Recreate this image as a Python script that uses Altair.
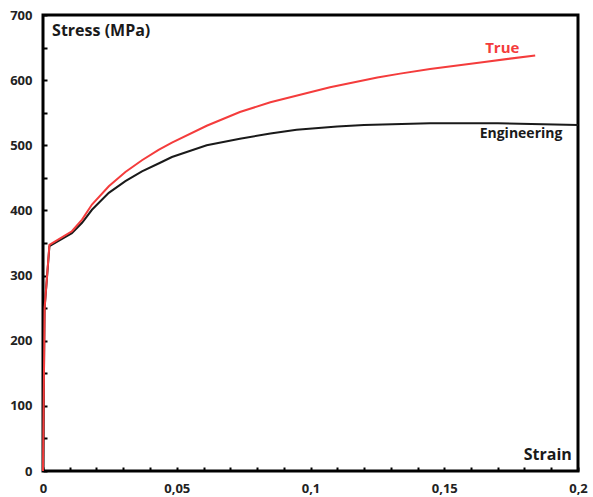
import altair as alt
import pandas as pd

# Engineering stress-strain curve
eng_strain = [0, 0.0006, 0.0024, 0.0108, 0.0146, 0.0183, 0.0246, 0.0308, 0.037, 0.0432, 0.0482,
              0.0612, 0.0736, 0.085, 0.0948, 0.11, 0.12, 0.1447, 0.17, 0.2]
eng_stress = [0, 250, 345, 365, 381, 401, 427, 445, 460, 472, 482,
              500, 510, 518, 524, 529, 531, 534, 534, 531]

# True stress-strain curve
true_strain = [0, 0.0006, 0.0024, 0.0108, 0.0146, 0.0183, 0.0246, 0.0308, 0.037, 0.0432, 0.0482,
               0.0612, 0.0736, 0.085, 0.1073, 0.125, 0.1335, 0.1447, 0.165, 0.184]
true_stress = [0, 250, 347, 368, 386, 409, 437, 459, 477, 493, 504,
               530, 551, 566, 589, 604, 610, 617, 628, 638]

series_names = ["Engineering", "True"]
series_colors = ["#1a1a1a", "#f43c3c"]

x_ticks = [round(i * 0.01, 2) for i in range(21)]
y_ticks = list(range(0, 701, 50))

# annotations (text, data position)
ann_text = ["Stress (MPa)", "Strain", "True", "Engineering"]
ann_x = [0.0034, 0.1977, 0.1717, 0.1787]
ann_y = [675, 25, 649, 517]
ann_align = ["left", "right", "center", "center"]
ann_color = ["#1a1a1a", "#1a1a1a", "#f43c3c", "#1a1a1a"]
ann_size = [16, 16, 15, 14]

rows = []
for s, v in zip(eng_strain, eng_stress):
    rows.append({"strain": s, "stress": v, "curve": "Engineering", "order": len(rows)})
for s, v in zip(true_strain, true_stress):
    rows.append({"strain": s, "stress": v, "curve": "True", "order": len(rows)})
df = pd.DataFrame(rows)

xscale = alt.Scale(domain=[0, 0.2], nice=False, zero=True)
yscale = alt.Scale(domain=[0, 700], nice=False)

x_axis = alt.Axis(
    values=x_ticks, title=None, grid=False, domain=False,
    tickSize=4, tickWidth=2, tickColor="black", offset=-4,
    labelExpr="(round(datum.value*100) % 5 == 0) ? replace(format(datum.value, ''), '.', ',') : ''",
    labelFont="Open Sans", labelFontWeight="bold", labelFontSize=13,
    labelColor="#222", labelPadding=11, labelFlush=False, labelOverlap=False,
)
y_axis = alt.Axis(
    values=y_ticks, title=None, grid=False, domain=False,
    tickSize=4, tickWidth=2, tickColor="black", offset=-4,
    labelExpr="datum.value % 100 == 0 ? datum.label : ''",
    labelFont="Open Sans", labelFontWeight="bold", labelFontSize=13,
    labelColor="#222", labelPadding=11, labelOverlap=False,
)

lines = alt.Chart(df).mark_line(strokeWidth=2, interpolate="linear").encode(
    x=alt.X("strain:Q", scale=xscale, axis=x_axis),
    y=alt.Y("stress:Q", scale=yscale, axis=y_axis),
    color=alt.Color("curve:N", scale=alt.Scale(domain=series_names, range=series_colors), legend=None),
    order="order:Q",
)

text_layers = []
for t, xv, yv, a, c, fs in zip(ann_text, ann_x, ann_y, ann_align, ann_color, ann_size):
    text_layers.append(
        alt.Chart(pd.DataFrame({"text": [t], "x": [xv], "y": [yv]}))
        .mark_text(font="Open Sans", fontWeight="bold", fontSize=fs, align=a,
                   baseline="middle", color=c)
        .encode(
            x=alt.X("x:Q", scale=xscale, axis=x_axis),
            y=alt.Y("y:Q", scale=yscale, axis=y_axis),
            text="text:N",
        )
    )

chart = alt.layer(lines, *text_layers).properties(
    width=535, height=456,
    autosize=alt.AutoSizeParams(type="none"),
    padding={"left": 43, "top": 15, "right": 15, "bottom": 26},
    background="white",
).configure_view(stroke="black", strokeWidth=3)

chart.save("out.html", embed_options={"renderer": "svg", "actions": False})
